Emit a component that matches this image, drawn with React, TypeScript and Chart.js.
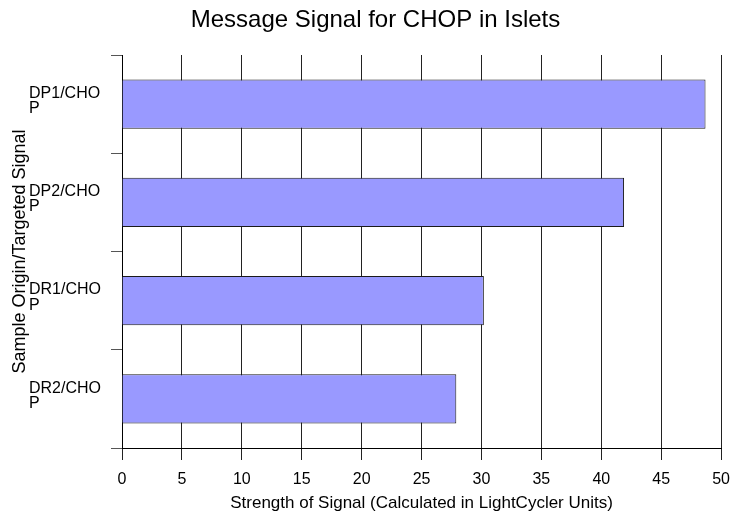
import React, { useEffect, useRef } from "react";
import { Chart, registerables } from "chart.js";

Chart.register(...registerables);

const chartTitle = "Message Signal for CHOP in Islets";
const categoryLabels: string[][] = [
  ["DP1/CHO", "P"],
  ["DP2/CHO", "P"],
  ["DR1/CHO", "P"],
  ["DR2/CHO", "P"],
];
const signalValues: number[] = [48.7, 41.9, 30.2, 27.9];
const xAxisTitle = "Strength of Signal (Calculated in LightCycler Units)";
const yAxisTitle = "Sample Origin/Targeted Signal";
const xMin = 0;
const xMax = 50;
const xStep = 5;

const FONT = "'Liberation Sans', Arial, sans-serif";

export default function App() {
  const canvasRef = useRef<HTMLCanvasElement | null>(null);

  useEffect(() => {
    document.body.style.margin = "0";
    const canvas = canvasRef.current;
    if (!canvas) return;
    const chart = new Chart(canvas, {
      type: "bar",
      data: {
        labels: categoryLabels,
        datasets: [
          {
            data: signalValues,
            backgroundColor: "#9999FF",
            borderColor: "#1a1a1a",
            borderWidth: 1,
            barPercentage: 0.5,
            categoryPercentage: 1,
          },
        ],
      },
      options: {
        indexAxis: "y",
        responsive: false,
        animation: false,
        layout: { padding: { left: 29, right: 18, top: 0, bottom: 0 } },
        plugins: {
          legend: { display: false },
          tooltip: { enabled: false },
          title: {
            display: true,
            text: chartTitle,
            color: "#000",
            font: { family: FONT, size: 24, weight: "normal", lineHeight: 1.2 },
            padding: { top: 5.6, bottom: 20.6 },
          },
        },
        scales: {
          x: {
            type: "linear",
            min: xMin,
            max: xMax,
            afterFit: (scale: any) => {
              scale.height = 67;
            },
            ticks: {
              stepSize: xStep,
              color: "#000",
              padding: 10,
              font: { family: FONT, size: 16 },
            },
            grid: {
              color: "#222",
              lineWidth: 1,
              tickLength: 12,
              drawOnChartArea: true,
            },
            border: { color: "#000", width: 1 },
            title: {
              display: true,
              text: xAxisTitle,
              color: "#000",
              font: { family: FONT, size: 17, lineHeight: 1.2 },
              padding: { top: 0, bottom: 1.5 },
            },
          },
          y: {
            type: "category",
            afterFit: (scale: any) => {
              scale.width = 93;
            },
            ticks: {
              color: "#000",
              crossAlign: "far",
              labelOffset: -3,
              font: { family: FONT, size: 16, lineHeight: 0.95 },
            },
            grid: {
              offset: true,
              drawOnChartArea: false,
              color: "#555",
              tickLength: 11,
            },
            border: { color: "#000", width: 1 },
            title: {
              display: true,
              text: yAxisTitle,
              color: "#000",
              font: { family: FONT, size: 18, lineHeight: 1.2 },
              padding: { top: -19.8, bottom: 0 },
            },
          },
        },
      },
    });
    return () => chart.destroy();
  }, []);

  return (
    <div style={{ position: "absolute", left: 0, top: 0, width: 740, height: 515, background: "#fff" }}>
      <canvas ref={canvasRef} width={740} height={515} />
    </div>
  );
}
